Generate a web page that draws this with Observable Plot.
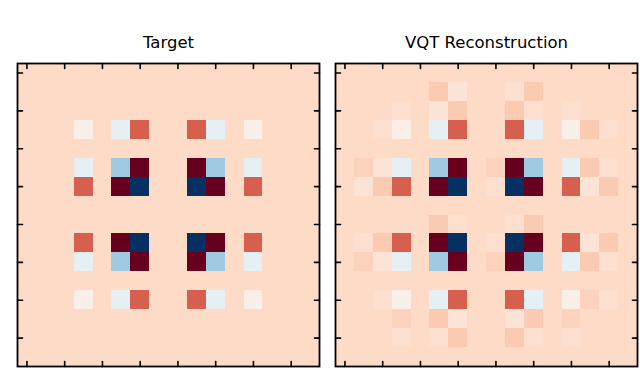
<!DOCTYPE html>
<html>
<head>
<meta charset="utf-8">
<script src="https://cdn.jsdelivr.net/npm/d3@7"></script>
<script src="https://cdn.jsdelivr.net/npm/@observablehq/plot@0.6"></script>
<style>
  html, body { margin: 0; padding: 0; background: white; }
</style>
</head>
<body>
<div id="chart"></div>
<script>
const panels = ["Target", "VQT Reconstruction"];
const rowIndex = d3.range(16);
const colIndex = d3.range(16);
const tickValues = [0, 2, 4, 6, 8, 10, 12, 14];

const target = [
  [0,0,0,0,0,0,0,0,0,0,0,0,0,0,0,0],
  [0,0,0,0,0,0,0,0,0,0,0,0,0,0,0,0],
  [0,0,0,0,0,0,0,0,0,0,0,0,0,0,0,0],
  [0,0,0,-0.17,0,-0.36,0.5,0,0,0.5,-0.36,0,-0.17,0,0,0],
  [0,0,0,0,0,0,0,0,0,0,0,0,0,0,0,0],
  [0,0,0,-0.36,0,-0.7,1,0,0,1,-0.7,0,-0.36,0,0,0],
  [0,0,0,0.5,0,1,-1.5,0,0,-1.5,1,0,0.5,0,0,0],
  [0,0,0,0,0,0,0,0,0,0,0,0,0,0,0,0],
  [0,0,0,0,0,0,0,0,0,0,0,0,0,0,0,0],
  [0,0,0,0.5,0,1,-1.5,0,0,-1.5,1,0,0.5,0,0,0],
  [0,0,0,-0.36,0,-0.7,1,0,0,1,-0.7,0,-0.36,0,0,0],
  [0,0,0,0,0,0,0,0,0,0,0,0,0,0,0,0],
  [0,0,0,-0.17,0,-0.36,0.5,0,0,0.5,-0.36,0,-0.17,0,0,0],
  [0,0,0,0,0,0,0,0,0,0,0,0,0,0,0,0],
  [0,0,0,0,0,0,0,0,0,0,0,0,0,0,0,0],
  [0,0,0,0,0,0,0,0,0,0,0,0,0,0,0,0]
];

const reconstruction = [
  [0,0,0,0,0,0,0,0,0,0,0,0,0,0,0,0],
  [0,0,0,0,0,0.08,-0.08,0,0,-0.04,0.08,0,0,0,0,0],
  [0,0,0,-0.04,0,-0.08,0.08,0,0,0.08,-0.04,0,-0.04,0,0,0],
  [0,0,-0.04,-0.17,0,-0.36,0.5,0,0,0.5,-0.36,0,-0.17,0.08,-0.04,0],
  [0,0,0,0,0,0,0,0,0,0,0,0,0,0,0,0],
  [0,0.04,-0.08,-0.36,0,-0.7,1,0,0.04,1,-0.7,0,-0.36,0.08,-0.04,0],
  [0,-0.08,0.08,0.5,0,1,-1.5,0,-0.04,-1.5,1,0,0.5,-0.08,0.08,0],
  [0,0,0,0,0,0,0,0,0,0,0,0,0,0,0,0],
  [0,0,0,0,0,0.08,-0.04,0,0,-0.04,0.08,0,0,0,0,0],
  [0,-0.04,0.08,0.5,0,1,-1.5,0,-0.04,-1.5,1,0,0.5,-0.08,0.08,0],
  [0,0.04,-0.08,-0.36,0,-0.7,1,0,0.04,1,-0.7,0,-0.36,0.08,-0.04,0],
  [0,0,0,0,0,0,0,0,0,0,0,0,0,0,0,0],
  [0,0,-0.04,-0.17,0,-0.36,0.5,0,0,0.5,-0.36,0,-0.17,0.04,-0.04,0],
  [0,0,0,0.04,0,0.08,-0.08,0,0,-0.08,0.08,0,0.04,0,0,0],
  [0,0,0,-0.04,0,-0.04,0.08,0,0,0.08,-0.04,0,-0.04,0,0,0],
  [0,0,0,0,0,0,0,0,0,0,0,0,0,0,0,0]
];

const colorMin = -1.5;
const colorMax = 1.0;
const rdbuR = ["#053061","#2166ac","#4393c3","#92c5de","#d1e5f0","#f7f7f7","#fddbc7","#f4a582","#d6604d","#b2182b","#67001f"];

const matrices = [target, reconstruction];
const cells = [];
panels.forEach((name, p) => {
  matrices[p].forEach((row, r) => {
    row.forEach((v, c) => cells.push({panel: name, row: rowIndex[r], col: colIndex[c], value: v}));
  });
});

const stops = rdbuR.map((_, i) => colorMin + (colorMax - colorMin) * i / (rdbuR.length - 1));

// a plain line segment shape for inward tick marks
const tickShape = {draw(context, l) { context.moveTo(0, 0); context.lineTo(0, -l); }};
const tickStyle = {length: 5, anchor: "start", shape: tickShape, stroke: "black", strokeWidth: 1.6};

const chart = Plot.plot({
  width: 640,
  height: 369,
  marginLeft: 17,
  marginRight: 3,
  marginTop: 63,
  marginBottom: 3,
  style: {fontFamily: "DejaVu Sans", background: "white", color: "black"},
  fx: {domain: panels, paddingInner: 16 / 318, paddingOuter: 0, axis: null, label: null, round: false},
  x: {type: "band", domain: colIndex, padding: 0, axis: null, round: false, label: null},
  y: {type: "band", domain: rowIndex, padding: 0, axis: null, round: false, label: null},
  color: {type: "linear", domain: stops, range: rdbuR, clamp: true},
  marks: [
    Plot.cell(cells, {fx: "panel", x: "col", y: "row", fill: "value", inset: 0, shapeRendering: "crispEdges"}),
    Plot.vector(tickValues, {x: d => d, frameAnchor: "top", rotate: 180, ...tickStyle}),
    Plot.vector(tickValues, {x: d => d, frameAnchor: "bottom", rotate: 0, ...tickStyle}),
    Plot.vector(tickValues, {y: d => d, frameAnchor: "left", rotate: 90, ...tickStyle}),
    Plot.vector(tickValues, {y: d => d, frameAnchor: "right", rotate: 270, ...tickStyle}),
    Plot.frame({stroke: "black", strokeWidth: 1.8}),
    Plot.text(panels, {fx: d => d, text: d => d, frameAnchor: "top", lineAnchor: "middle", dy: -21, fontSize: 16.5, fill: "black"})
  ]
});

document.getElementById("chart").appendChild(chart);
</script>
</body>
</html>
